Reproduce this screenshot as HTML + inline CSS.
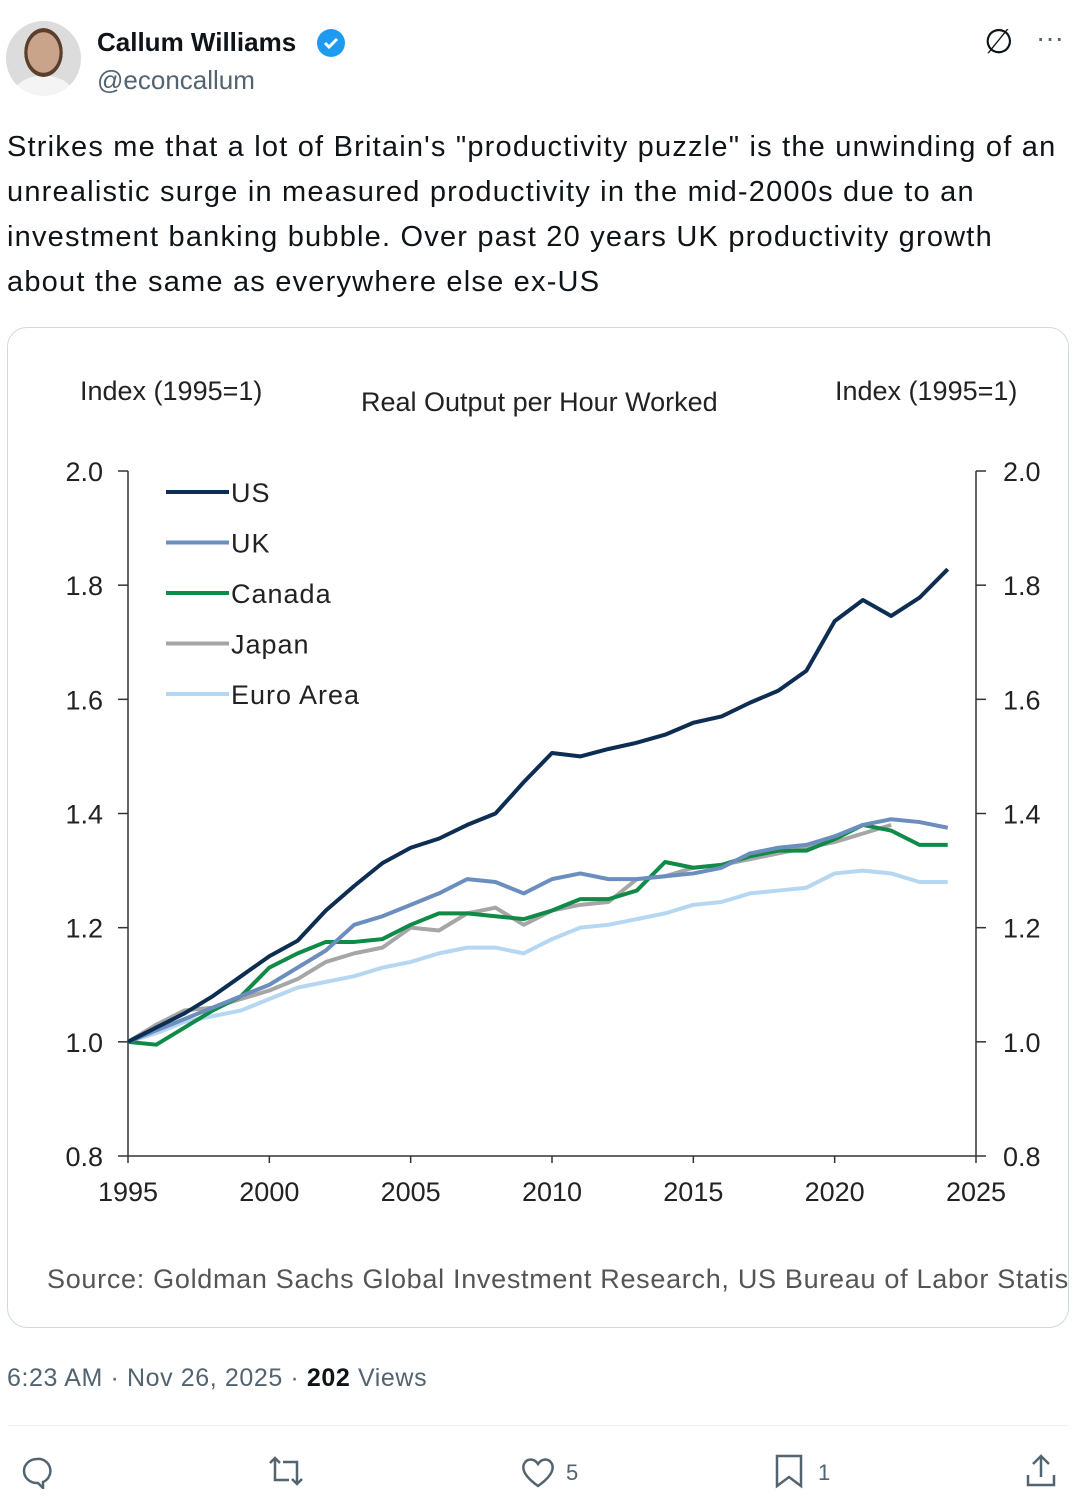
<!DOCTYPE html>
<html><head><meta charset="utf-8"><style>
body{margin:0;width:1084px;height:1509px;background:#fff;font-family:"Liberation Sans",sans-serif;position:relative;overflow:hidden;color:#0f1419}
.a{position:absolute}
</style></head><body>
<div class="a" style="left:6px;top:21px;width:75px;height:75px;border-radius:50%;background:radial-gradient(ellipse 30% 38% at 50% 42%,#c9a48a 0 70%,#5b3e2b 72% 85%,transparent 86%),radial-gradient(ellipse 45% 30% at 50% 100%,#f4f4f4 0 90%,transparent 92%),#dcdcdc;"></div>
<div class="a" style="left:97px;top:27px;font-size:26px;font-weight:bold;">Callum Williams</div>
<svg class="a" style="left:316px;top:28px" width="30" height="30" viewBox="0 0 30 30"><circle cx="15" cy="15" r="14" fill="#1d9bf0"/><path d="M9 15l4 4 8-8" stroke="#fff" stroke-width="3" fill="none"/></svg>
<div class="a" style="left:97px;top:65px;font-size:26px;color:#536471;">@econcallum</div>
<div class="a" style="left:984px;top:22px;font-size:34px;">∅</div>
<div class="a" style="left:1036px;top:22px;font-size:28px;color:#536471;">···</div>
<div class="a" style="left:7px;top:125px;font-size:29px;line-height:45px;width:1090px;white-space:nowrap;letter-spacing:1.2px;">Strikes me that a lot of Britain's "productivity puzzle" is the unwinding of an<br>unrealistic surge in measured productivity in the mid-2000s due to an<br>investment banking bubble. Over past 20 years UK productivity growth<br>about the same as everywhere else ex-US</div>
<div class="a" style="left:7px;top:327px;width:1060px;height:999px;border:1px solid #cfd9de;border-radius:20px;overflow:hidden;">
<svg id="chart" width="1060" height="999" style="position:absolute;left:-7px;top:-327px;overflow:visible" font-family="Liberation Sans, sans-serif"></svg>
</div>
<div class="a" style="left:7px;top:1364px;font-size:25px;color:#536471;letter-spacing:0.6px;">6:23 AM · Nov 26, 2025 · <b style="color:#0f1419">202</b> Views</div>
<div class="a" style="left:7px;top:1425px;width:1062px;height:1px;background:#eff3f4"></div>
<svg class="a" style="left:20px;top:1455px" width="34" height="34" viewBox="0 0 34 34"><path d="M17 4a13 12 0 1 0 0 24h1l5 5v-6a12 12 0 0 0-6-23z" fill="none" stroke="#536471" stroke-width="2.5"/></svg>
<svg class="a" style="left:266px;top:1455px" width="40" height="32" viewBox="0 0 40 32"><path d="M4 8l5-5 5 5M9 3v22h14M36 24l-5 5-5-5M31 29V7H17" fill="none" stroke="#536471" stroke-width="2.5"/></svg>
<svg class="a" style="left:520px;top:1456px" width="36" height="32" viewBox="0 0 36 32"><path d="M18 30C4 20 2 13 4 8 7 2 14 2 18 8 22 2 29 2 32 8 34 13 32 20 18 30z" fill="none" stroke="#536471" stroke-width="2.5"/></svg>
<div class="a" style="left:566px;top:1460px;font-size:22px;color:#536471;">5</div>
<svg class="a" style="left:774px;top:1453px" width="30" height="36" viewBox="0 0 30 36"><path d="M3 3h24v30l-12-9-12 9z" fill="none" stroke="#536471" stroke-width="2.5"/></svg>
<div class="a" style="left:818px;top:1460px;font-size:22px;color:#536471;">1</div>
<svg class="a" style="left:1024px;top:1453px" width="34" height="36" viewBox="0 0 34 36"><path d="M17 24V4M9 11l8-8 8 8M4 22v10h26V22" fill="none" stroke="#536471" stroke-width="2.5"/></svg>
<script>
const years=[1995,1996,1997,1998,1999,2000,2001,2002,2003,2004,2005,2006,2007,2008,2009,2010,2011,2012,2013,2014,2015,2016,2017,2018,2019,2020,2021,2022,2023,2024];
const us=[1.0,1.025,1.05,1.08,1.115,1.15,1.177,1.23,1.273,1.313,1.34,1.356,1.38,1.40,1.455,1.506,1.50,1.513,1.524,1.538,1.559,1.57,1.594,1.615,1.65,1.737,1.774,1.746,1.778,1.828];
const uk=[1.0,1.02,1.04,1.06,1.08,1.10,1.13,1.16,1.205,1.22,1.24,1.26,1.285,1.28,1.26,1.285,1.295,1.285,1.285,1.29,1.295,1.305,1.33,1.34,1.345,1.36,1.38,1.39,1.385,1.375];
const canada=[1.0,0.995,1.025,1.055,1.08,1.13,1.155,1.175,1.175,1.18,1.205,1.225,1.225,1.22,1.215,1.23,1.25,1.25,1.265,1.315,1.305,1.31,1.325,1.335,1.335,1.355,1.38,1.37,1.345,1.345];
const japan=[1.0,1.03,1.055,1.06,1.075,1.09,1.11,1.14,1.155,1.165,1.20,1.195,1.225,1.235,1.205,1.23,1.24,1.245,1.285,1.29,1.305,1.31,1.32,1.33,1.34,1.35,1.365,1.38];
const euro=[1.0,1.015,1.035,1.045,1.055,1.075,1.095,1.105,1.115,1.13,1.14,1.155,1.165,1.165,1.155,1.18,1.20,1.205,1.215,1.225,1.24,1.245,1.26,1.265,1.27,1.295,1.30,1.295,1.28,1.28];
const yTicks=["0.8","1.0","1.2","1.4","1.6","1.8","2.0"];
const xTicks=["1995","2000","2005","2010","2015","2020","2025"];
const seriesNames=["US","UK","Canada","Japan","Euro Area"];
const svg=document.getElementById('chart');
const NS='http://www.w3.org/2000/svg';
const X=y=>127+(y-1995)*(975-127)/30;
const Y=v=>1155-(v-0.8)*(1155-470)/1.2;
function mk(t,a,txt){const e=document.createElementNS(NS,t);for(const k in a)e.setAttribute(k,a[k]);if(txt)e.textContent=txt;svg.appendChild(e);return e;}
let e;
e=mk('text',{x:79,y:399,'font-size':27,fill:'#222'},'Index (1995=1)');


e=mk('text',{x:834,y:399,'font-size':27,fill:'#222'},'Index (1995=1)');


e=mk('text',{x:360,y:410,'font-size':27,fill:'#222'},'Real Output per Hour Worked');


e=mk('line',{x1:127,y1:470,x2:127,y2:1155,stroke:'#333','stroke-width':1.5});


e=mk('line',{x1:975,y1:470,x2:975,y2:1155,stroke:'#333','stroke-width':1.5});


e=mk('line',{x1:127,y1:1155,x2:975,y2:1155,stroke:'#333','stroke-width':1.5});


yTicks.forEach(t=>{const y=Y(+t);
mk('line',{x1:117,y1:y,x2:127,y2:y,stroke:'#333','stroke-width':1.5});
mk('line',{x1:975,y1:y,x2:985,y2:y,stroke:'#333','stroke-width':1.5});
e=mk('text',{x:102,y:y+10,'font-size':27,fill:'#222','text-anchor':'end'},t);


e=mk('text',{x:1002,y:y+10,'font-size':27,fill:'#222'},t);

});
xTicks.forEach(t=>{const x=X(+t);
mk('line',{x1:x,y1:1155,x2:x,y2:1162,stroke:'#333','stroke-width':1.5});
e=mk('text',{x:x,y:1200,'font-size':27,fill:'#222','text-anchor':'middle'},t);

});
const all=[[us,'#0d2d52'],[uk,'#6c8ebf'],[canada,'#0f8a47'],[japan,'#a6a6a6'],[euro,'#b6d7f2']];
[4,3,2,1,0].forEach(i=>{const [d,c]=all[i];
e=mk('polyline',{points:d.map((v,j)=>X(years[j])+','+Y(v)).join(' '),fill:'none',stroke:c,'stroke-width':4,'stroke-linejoin':'round'});

});
seriesNames.forEach((n,i)=>{const y=491+i*50.5;
mk('line',{x1:165,y1:y,x2:228,y2:y,stroke:all[i][1],'stroke-width':4});
e=mk('text',{x:230,y:y+10,'font-size':27,fill:'#222','letter-spacing':1},n);

});
e=mk('text',{x:46,y:1287,'font-size':27,fill:'#555','letter-spacing':0.7},'Source: Goldman Sachs Global Investment Research, US Bureau of Labor Statistics');


</script>
</body></html>
